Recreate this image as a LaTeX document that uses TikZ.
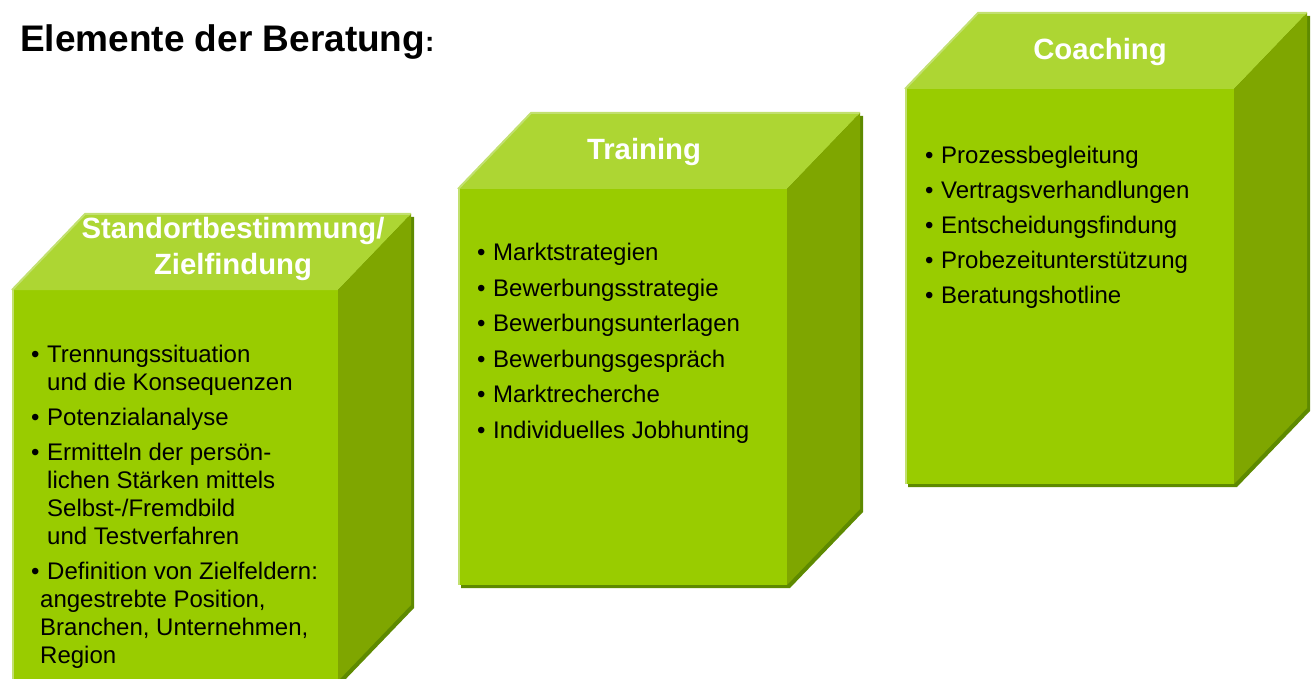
\documentclass[tikz,border=0pt]{standalone}
\usepackage{fontspec}
\setmainfont{Liberation Sans}

\definecolor{frontgreen}{HTML}{99CC00}
\definecolor{topgreen}{HTML}{ADD633}
\definecolor{sidegreen}{HTML}{7FA600}
\definecolor{shadowgreen}{HTML}{5E8A00}
\definecolor{edgegreen}{HTML}{C2E070}

\tikzset{
  headlabel/.style={text=white, align=center, inner sep=0,
    font=\bfseries\fontsize{29.3}{36}\selectfont},
  listtext/.style={anchor=north west, align=left, inner sep=0,
    font=\fontsize{24}{28}\selectfont}
}

% box: left, top, right, bottom of the front face
\newcommand{\greenbox}[4]{
\fill[shadowgreen, shift={(3,3)}] (#1,#2) -- (#1+73,#2-76) -- (#3+73,#2-76)
  -- (#3+73,#4-76) -- (#3,#4) -- (#1,#4) -- cycle;
\fill[frontgreen] (#1,#2) rectangle (#3,#4);
\fill[edgegreen] (#1,#2) rectangle (#1+2,#4);
\fill[topgreen] (#1,#2) -- (#1+73,#2-76) -- (#3+73,#2-76) -- (#3,#2) -- cycle;
\draw[edgegreen, line width=2pt] (#1,#2) -- (#1+73,#2-76) -- (#3+73,#2-76);
\fill[sidegreen] (#3,#2) -- (#3+73,#2-76) -- (#3+73,#4-76) -- (#3,#4) -- cycle;
}
\newcommand{\bul}{\makebox[16pt][l]{•}}
\newcommand{\ind}{\hspace*{16pt}}

\begin{document}
\begin{tikzpicture}[x=1pt, y=-1pt]
\useasboundingbox (0,0) rectangle (1315,679);

\node[anchor=base west, inner sep=0, font=\bfseries\fontsize{37}{40}\selectfont]
  (title) at (20,52) {Elemente der Beratung{\fontsize{28}{30}\selectfont:}};

\greenbox{12}{290}{338}{681}
\greenbox{458}{189}{787}{585}
\greenbox{905}{89}{1234}{484}

\node[headlabel] (standort) at (233,249) {Standortbestimmung/\\Zielfindung};
\node[headlabel] (training) at (644,152) {Training};
\node[headlabel] (coaching) at (1100,52) {Coaching};

\node[listtext] (standortlist) at (31,345) {%
\bul Trennungssituation\\
\ind und die Konsequenzen\\[7pt]
\bul Potenzialanalyse\\[7pt]
\bul Ermitteln der persön-\\
\ind lichen Stärken mittels\\
\ind Selbst-/Fremdbild\\
\ind und Testverfahren\\[7pt]
\bul Definition von Zielfeldern:\\
\hspace*{9pt}angestrebte Position,\\
\hspace*{9pt}Branchen, Unternehmen,\\
\hspace*{9pt}Region};

\node[listtext] (traininglist) at (477,243) {%
\bul Marktstrategien\\[7.5pt]
\bul Bewerbungsstrategie\\[7.5pt]
\bul Bewerbungsunterlagen\\[7.5pt]
\bul Bewerbungsgespräch\\[7.5pt]
\bul Marktrecherche\\[7.5pt]
\bul Individuelles Jobhunting};

\node[listtext] (coachinglist) at (925,146) {%
\bul Prozessbegleitung\\[7pt]
\bul Vertragsverhandlungen\\[7pt]
\bul Entscheidungsfindung\\[7pt]
\bul Probezeitunterstützung\\[7pt]
\bul Beratungshotline};
\end{tikzpicture}
\end{document}
